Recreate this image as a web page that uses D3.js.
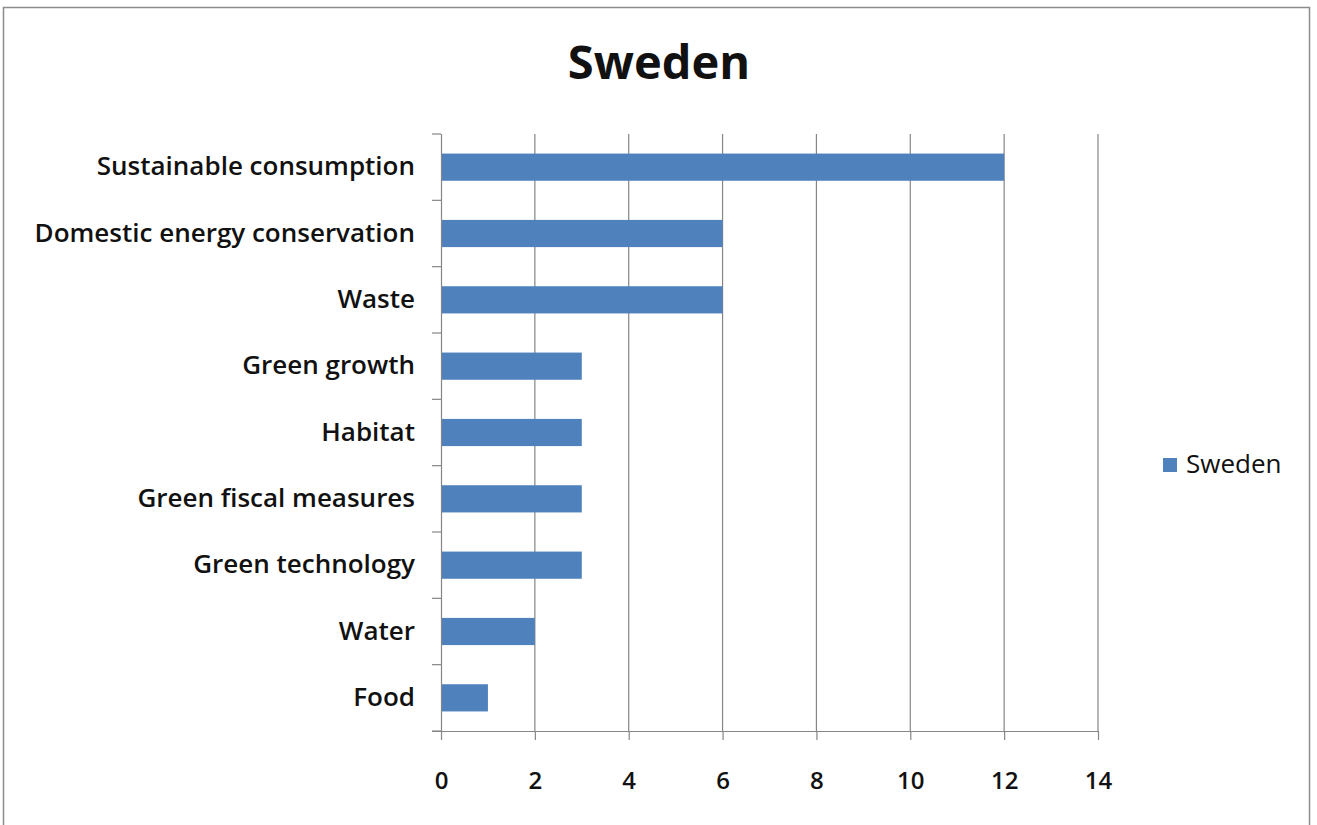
<!DOCTYPE html>
<html>
<head>
<meta charset="utf-8">
<script src="https://cdn.jsdelivr.net/npm/d3@7"></script>
<style>
  html, body { margin: 0; padding: 0; background: #fff; }
  svg { display: block; }
</style>
</head>
<body>
<svg id="chart" width="1317" height="825"></svg>
<script>
// Topic categories, listed top to bottom
const categories = [
  "Sustainable consumption",
  "Domestic energy conservation",
  "Waste",
  "Green growth",
  "Habitat",
  "Green fiscal measures",
  "Green technology",
  "Water",
  "Food"
];
// Count per category for Sweden
const swedenValues = [12, 6, 6, 3, 3, 3, 3, 2, 1];
const xTicks = [0, 2, 4, 6, 8, 10, 12, 14];
const seriesName = "Sweden";
const chartTitle = "Sweden";

const svg = d3.select("#chart");
const plot = { left: 441, right: 1098, top: 134, bottom: 731 };
const font = "'Open Sans', 'Noto Sans', sans-serif";
const barColor = "#4f81bd";
const gridColor = "#868686";

// outer chart frame
svg.append("rect")
  .attr("x", 3.5).attr("y", 7.5)
  .attr("width", 1306).attr("height", 830)
  .attr("fill", "#fff").attr("stroke", "#8c8c8c").attr("stroke-width", 1.5);

const x = d3.scaleLinear().domain([0, 14]).range([plot.left, plot.right]);
const y = d3.scaleBand().domain(categories).range([plot.top, plot.bottom]).padding(0);

// vertical gridlines
svg.append("g")
  .selectAll("line")
  .data(xTicks.filter(t => t > 0))
  .join("line")
  .attr("x1", d => x(d)).attr("x2", d => x(d))
  .attr("y1", plot.top).attr("y2", plot.bottom)
  .attr("stroke", gridColor).attr("stroke-width", 1.2);

// bars
const barFrac = 0.41;
svg.append("g")
  .selectAll("rect")
  .data(categories.map((c, i) => ({ c, v: swedenValues[i] })))
  .join("rect")
  .attr("x", x(0))
  .attr("y", d => y(d.c) + y.bandwidth() * (1 - barFrac) / 2)
  .attr("width", d => x(d.v) - x(0))
  .attr("height", y.bandwidth() * barFrac)
  .attr("fill", barColor);

// x axis
const xAxis = svg.append("g")
  .attr("transform", `translate(0,${plot.bottom})`)
  .call(d3.axisBottom(x).tickValues(xTicks).tickSize(9).tickSizeOuter(0).tickPadding(32));
xAxis.select(".domain").attr("stroke", gridColor).attr("stroke-width", 1.2)
  .attr("d", `M${plot.left - 9},0.5H${plot.right}`);
xAxis.selectAll(".tick line").attr("stroke", gridColor).attr("stroke-width", 1.2);
xAxis.selectAll(".tick text")
  .attr("fill", "#111").attr("font-family", font).attr("font-weight", 600)
  .attr("font-size", 24);

// y axis
const yAxis = svg.append("g")
  .attr("transform", `translate(${plot.left},0)`)
  .call(d3.axisLeft(y).tickSize(0).tickPadding(26));
yAxis.select(".domain").attr("stroke", gridColor).attr("stroke-width", 1.2)
  .attr("d", `M0.5,${plot.top}V${plot.bottom}`);
yAxis.selectAll(".tick text")
  .attr("fill", "#111").attr("font-family", font).attr("font-weight", 600)
  .attr("font-size", 26);
// category boundary ticks on the y axis
const bounds = categories.map(c => y(c)).concat([plot.bottom]);
yAxis.append("g").selectAll("line")
  .data(bounds)
  .join("line")
  .attr("x1", -9).attr("x2", 0)
  .attr("y1", d => d).attr("y2", d => d)
  .attr("stroke", gridColor).attr("stroke-width", 1.2);

// title
svg.append("text")
  .attr("x", 659).attr("y", 66)
  .attr("text-anchor", "middle").attr("dominant-baseline", "middle")
  .attr("font-family", font).attr("font-weight", 700).attr("font-size", 47)
  .attr("fill", "#111")
  .text(chartTitle);

// legend
const legend = svg.append("g").attr("transform", "translate(1163,458)");
legend.append("rect").attr("width", 14).attr("height", 14).attr("fill", barColor);
legend.append("text")
  .attr("x", 23).attr("y", 8)
  .attr("dominant-baseline", "middle")
  .attr("font-family", font).attr("font-weight", 400).attr("font-size", 26)
  .attr("fill", "#111")
  .text(seriesName);
</script>
</body>
</html>
